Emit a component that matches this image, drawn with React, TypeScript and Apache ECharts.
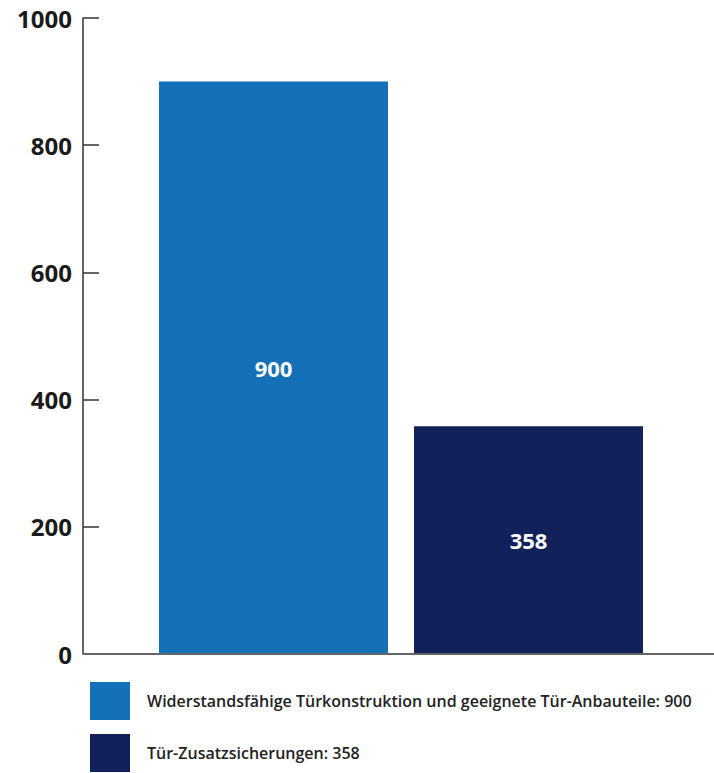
import React, { useEffect, useRef } from "react";
import * as echarts from "echarts";

const seriesNames = [
  "Widerstandsfähige Türkonstruktion und geeignete Tür-Anbauteile",
  "Tür-Zusatzsicherungen",
];
const seriesValues = [900, 358];
const seriesColors = ["#1470b7", "#13215b"];
const categories = ["a", "b"];
const yMin = 0;
const yMax = 1000;
const yInterval = 200;

export default function App() {
  const ref = useRef<HTMLDivElement>(null);
  useEffect(() => {
    if (!ref.current) return;
    const chart = echarts.init(ref.current, null, { renderer: "svg" });
    const font = "'Open Sans', 'Noto Sans', sans-serif";
    const legendTops = [682, 734];
    chart.setOption({
      animation: false,
      backgroundColor: "#ffffff",
      textStyle: { fontFamily: font },
      grid: { left: 146, right: 58, top: 18, bottom: 119, containLabel: false },
      graphic: [
        {
          type: "line",
          shape: { x1: 83, y1: 654, x2: 714, y2: 654 },
          style: { stroke: "#666666", lineWidth: 2 },
          z: 10,
        },
      ],
      legend: seriesNames.map((name, i) => ({
        orient: "vertical",
        left: 90,
        top: legendTops[i],
        padding: 0,
        itemWidth: 40,
        itemHeight: 38,
        icon: "rect",
        data: [name],
        formatter: (n: string) => `${n}: ${seriesValues[seriesNames.indexOf(n)]}`,
        textStyle: {
          fontFamily: font,
          fontSize: 16,
          fontWeight: 600,
          color: "#222222",
          padding: [0, 0, 0, 12],
        },
      })),
      xAxis: {
        type: "category",
        data: categories,
        axisLine: { show: false },
        axisTick: { show: false },
        axisLabel: { show: false },
        splitLine: { show: false },
      },
      yAxis: {
        type: "value",
        min: yMin,
        max: yMax,
        interval: yInterval,
        offset: 63,
        axisLine: { show: true, lineStyle: { color: "#333333", width: 1.5 } },
        axisTick: { show: true, inside: true, length: 16, lineStyle: { color: "#333333", width: 1.5 } },
        axisLabel: {
          fontFamily: font,
          fontSize: 24,
          fontWeight: "bold",
          color: "#1a1a1a",
          margin: 11,
          formatter: (v: number) => String(v),
        },
        splitLine: { show: false },
      },
      series: seriesNames.map((name, i) => ({
        type: "bar",
        name,
        stack: "s",
        data: categories.map((_, j) => (j === i ? seriesValues[i] : null)),
        barWidth: 229,
        itemStyle: { color: seriesColors[i] },
        label: {
          show: true,
          position: "inside",
          color: "#ffffff",
          fontFamily: font,
          fontSize: 22,
          fontWeight: "bold",
        },
      })),
    });
    return () => chart.dispose();
  }, []);
  return (
    <div
      ref={ref}
      style={{ position: "fixed", left: 0, top: 0, width: 714, height: 773 }}
    />
  );
}
